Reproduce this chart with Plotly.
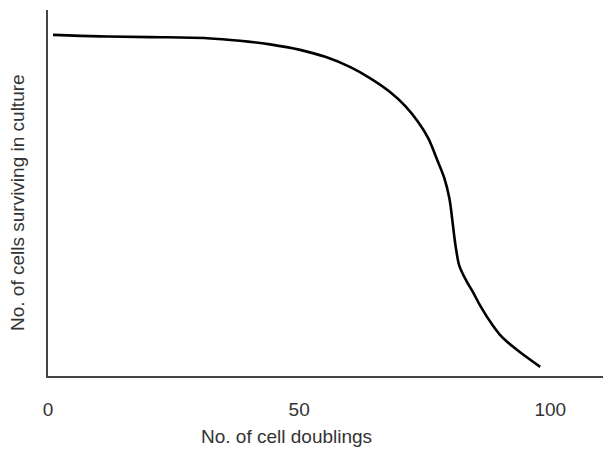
import plotly.graph_objects as go

# Data (x: cell doublings, y: relative number of surviving cells)
doublings = [1.0, 10.4, 20.3, 31.7, 38.2, 44.2, 50.2, 55.2, 60.2, 64.1, 68.1, 71.1,
             73.7, 75.7, 77.5, 78.9, 79.9, 80.5, 80.9, 81.3, 81.9, 83.3, 84.5, 86.1,
             88.6, 89.9, 91.3, 94.0, 98.0]
surviving = [93.2, 92.8, 92.6, 92.3, 91.6, 90.6, 89.1, 87.2, 84.4, 81.4, 77.6, 73.8,
             69.4, 65.0, 59.0, 54.1, 48.6, 42.6, 38.0, 34.2, 30.1, 26.0, 23.2, 19.1,
             13.7, 11.4, 9.5, 6.5, 2.5]
tick_values = [0, 50, 100]
tick_labels = ["0", "50", "100"]

fig = go.Figure()
fig.add_trace(go.Scatter(
    x=doublings, y=surviving, mode="lines",
    line=dict(color="black", width=2.6, shape="spline", smoothing=1.0),
    showlegend=False, hoverinfo="skip",
))

font = "Liberation Sans, Arial, Helvetica, sans-serif"
fig.update_layout(
    width=605, height=449,
    margin=dict(l=48, r=2, t=10, b=73),
    paper_bgcolor="white", plot_bgcolor="white",
    font=dict(family=font, color="#333", size=19),
    xaxis=dict(
        range=[0, 110.5], showgrid=False, zeroline=False,
        showline=True, linecolor="#444", linewidth=1.5,
        tickvals=tick_values, ticktext=tick_labels, ticks="",
        ticklabelstandoff=15, tickfont=dict(size=19, color="#333"),
        fixedrange=True,
    ),
    yaxis=dict(
        range=[0, 100], showgrid=False, zeroline=False,
        showline=True, linecolor="#444", linewidth=1.5,
        showticklabels=False, ticks="", fixedrange=True,
    ),
    annotations=[
        dict(text="No. of cell doublings", x=286, y=449 - 436, xref="paper", yref="paper",
             showarrow=False, font=dict(size=19, color="#333")),
        dict(text="No. of cells surviving in culture", x=17, y=449 - 203,
             xref="paper", yref="paper", showarrow=False, textangle=-90,
             font=dict(size=19, color="#333")),
    ],
)

# Convert pixel-position annotations into paper coordinates
pw = 605 - 48 - 2
ph = 449 - 10 - 73
for a in fig.layout.annotations:
    a.x = (a.x - 48) / pw
    a.y = (a.y - 73) / ph
    a.xanchor = "center"
    a.yanchor = "middle"

fig.write_html(
    "out.html",
    config={"displayModeBar": False},
    post_script="document.body.style.margin='0';document.body.style.overflow='hidden';",
)
